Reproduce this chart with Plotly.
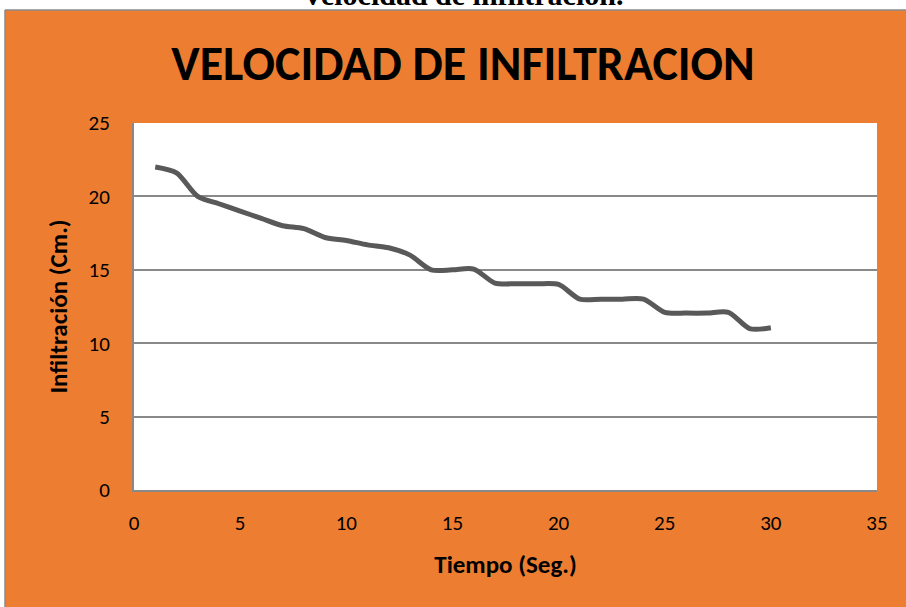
import plotly.graph_objects as go

tiempo = list(range(1, 31))
infiltracion = [22.0, 21.6, 20.0, 19.5, 19.0, 18.5, 18.0, 17.8, 17.2, 17.0,
                16.7, 16.5, 16.0, 15.0, 15.0, 15.05, 14.1, 14.05, 14.05, 14.0,
                13.0, 13.0, 13.0, 13.0, 12.1, 12.05, 12.05, 12.1, 11.0, 11.05]

W, H = 906, 607
L, R, T, B = 134, 877, 123, 490  # plot area in pixels


def px_x(px):
    return (px - L) / (R - L)


def px_y(py):
    return (B - py) / (B - T)


ORANGE = "#ED7D31"
GRID = "#898989"
FONT = "Carlito, Lato, sans-serif"

fig = go.Figure()
fig.add_trace(go.Scatter(
    x=tiempo, y=infiltracion, mode="lines",
    line=dict(color="#595959", width=5, shape="spline", smoothing=0.8),
    showlegend=False, hoverinfo="x+y",
))

shapes = [
    dict(type="rect", xref="paper", yref="paper", x0=px_x(-5), x1=px_x(W + 5),
         y0=px_y(10), y1=px_y(-5), fillcolor="white", line=dict(width=0), layer="above"),
    dict(type="rect", xref="paper", yref="paper", x0=px_x(-5), x1=px_x(5),
         y0=px_y(H + 5), y1=px_y(10), fillcolor="white", line=dict(width=0), layer="above"),
    dict(type="line", xref="paper", yref="paper", x0=px_x(5), x1=px_x(W + 5),
         y0=px_y(10), y1=px_y(10), line=dict(color="#8a8a8a", width=1.5), layer="above"),
    dict(type="line", xref="paper", yref="paper", x0=px_x(5), x1=px_x(5),
         y0=px_y(10), y1=px_y(H + 5), line=dict(color="#8a8a8a", width=1.5), layer="above"),
]

fig.update_layout(
    width=W, height=H,
    margin=dict(l=L, r=W - R, t=T, b=H - B, pad=0),
    paper_bgcolor=ORANGE,
    plot_bgcolor="white",
    shapes=shapes,
    title=dict(text="<b>VELOCIDAD DE INFILTRACION</b>", x=463 / W, xanchor="center",
               y=1 - 63 / H, yanchor="middle",
               font=dict(family=FONT, size=48, color="black")),
    annotations=[
        dict(text="<b>Velocidad de infiltración.</b>", xref="paper", yref="paper",
             x=px_x(462), y=px_y(-6), xanchor="center", yanchor="middle",
             showarrow=False, font=dict(family="Liberation Serif, serif", size=30, color="black")),
    ],
    xaxis=dict(
        range=[0, 35], dtick=5, tick0=0, showgrid=False, zeroline=False,
        showline=True, linecolor=GRID, linewidth=2, ticks="outside", ticklen=13,
        tickcolor="rgba(0,0,0,0)",
        tickfont=dict(family=FONT, size=21, color="black"),
        title=dict(text="<b>Tiempo (Seg.)</b>", font=dict(family=FONT, size=25, color="black"),
                   standoff=20),
    ),
    yaxis=dict(
        range=[0, 25], dtick=5, tick0=0, showgrid=True, gridcolor=GRID, gridwidth=1.5,
        zeroline=False, showline=True, linecolor=GRID, linewidth=2,
        ticks="outside", ticklen=18, tickcolor="rgba(0,0,0,0)",
        tickfont=dict(family=FONT, size=21, color="black"),
        title=dict(text="<b>Infiltración (Cm.)</b>", font=dict(family=FONT, size=25, color="black"),
                   standoff=14),
    ),
)

fig.write_html("out.html", config={"displayModeBar": False},
               post_script="document.body.style.margin='0';")
